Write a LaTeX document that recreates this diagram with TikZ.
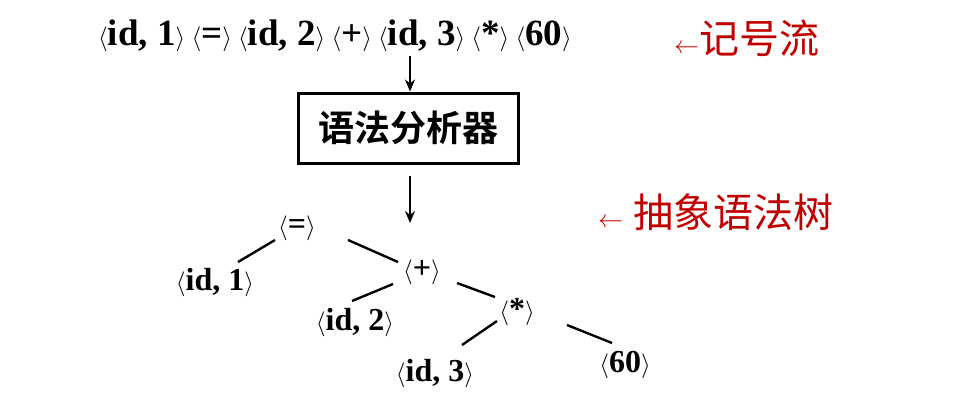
\documentclass[tikz,border=0pt]{standalone}
\usepackage{fontspec}
\setmainfont{Liberation Serif}
\newfontfamily\cjk{Noto Sans CJK SC}
\newfontfamily\cjkb{Noto Sans CJK SC Bold}
\usetikzlibrary{arrows.meta}
\begin{document}
\begin{tikzpicture}[x=1pt,y=-1pt,
  tok/.style={inner sep=0pt,font=\fontsize{37}{40}\selectfont\bfseries},
  leaf/.style={inner sep=0pt,font=\fontsize{32}{36}\selectfont\bfseries},
  red/.style={inner sep=0pt,text={rgb,255:red,192;green,0;blue,0},font=\fontsize{40}{44}\selectfont},
  edge/.style={line width=2.4pt},
  arr/.style={line width=2pt,-{Stealth[length=12pt,width=10pt]}}]
\useasboundingbox (0,0) rectangle (958,400);
\node[tok,anchor=west] (s) at (98,36) {$\langle$id, 1$\rangle$\,$\langle$=$\rangle$\,$\langle$id, 2$\rangle$\,$\langle$+$\rangle$\,$\langle$id, 3$\rangle$\,$\langle$*$\rangle$\,$\langle$60$\rangle$};
\node[red,anchor=west] (r1) at (674,38) {$\leftarrow$\cjk 记号流};
\node[draw,line width=3pt,minimum width=220pt,minimum height=70pt,font=\fontsize{36}{40}\selectfont\cjkb] (box) at (408,128) {语法分析器};
\coordinate (a1) at (410,56);
\draw[arr] (a1) -- (box.north -| a1);
\coordinate (a2) at (410,176); \coordinate (a3) at (410,223);
\draw[arr] (a2) -- (a3);
\node[red,anchor=west] (r2) at (598,212) {$\leftarrow$ \cjk 抽象语法树};
\node[leaf] (eq) at (297,228) {$\langle$=$\rangle$};
\node[leaf] (i1) at (215,283) {$\langle$id, 1$\rangle$};
\node[leaf] (pl) at (422,272) {$\langle$+$\rangle$};
\node[leaf] (i2) at (355,322) {$\langle$id, 2$\rangle$};
\node[leaf] (st) at (517,312) {$\langle$*$\rangle$};
\node[leaf] (i3) at (435,373) {$\langle$id, 3$\rangle$};
\node[leaf] (n6) at (625,365) {$\langle$60$\rangle$};
\coordinate (e1a) at (275,240); \coordinate (e1b) at (238,262);
\coordinate (e2a) at (348,240); \coordinate (e2b) at (398,262);
\coordinate (e3a) at (393,284); \coordinate (e3b) at (352,301);
\coordinate (e4a) at (457,283); \coordinate (e4b) at (495,297);
\coordinate (e5a) at (497,321); \coordinate (e5b) at (462,345);
\coordinate (e6a) at (567,325); \coordinate (e6b) at (612,343);
\draw[edge] (e1a)--(e1b) (e2a)--(e2b) (e3a)--(e3b) (e4a)--(e4b) (e5a)--(e5b) (e6a)--(e6b);
\end{tikzpicture}
\end{document}
